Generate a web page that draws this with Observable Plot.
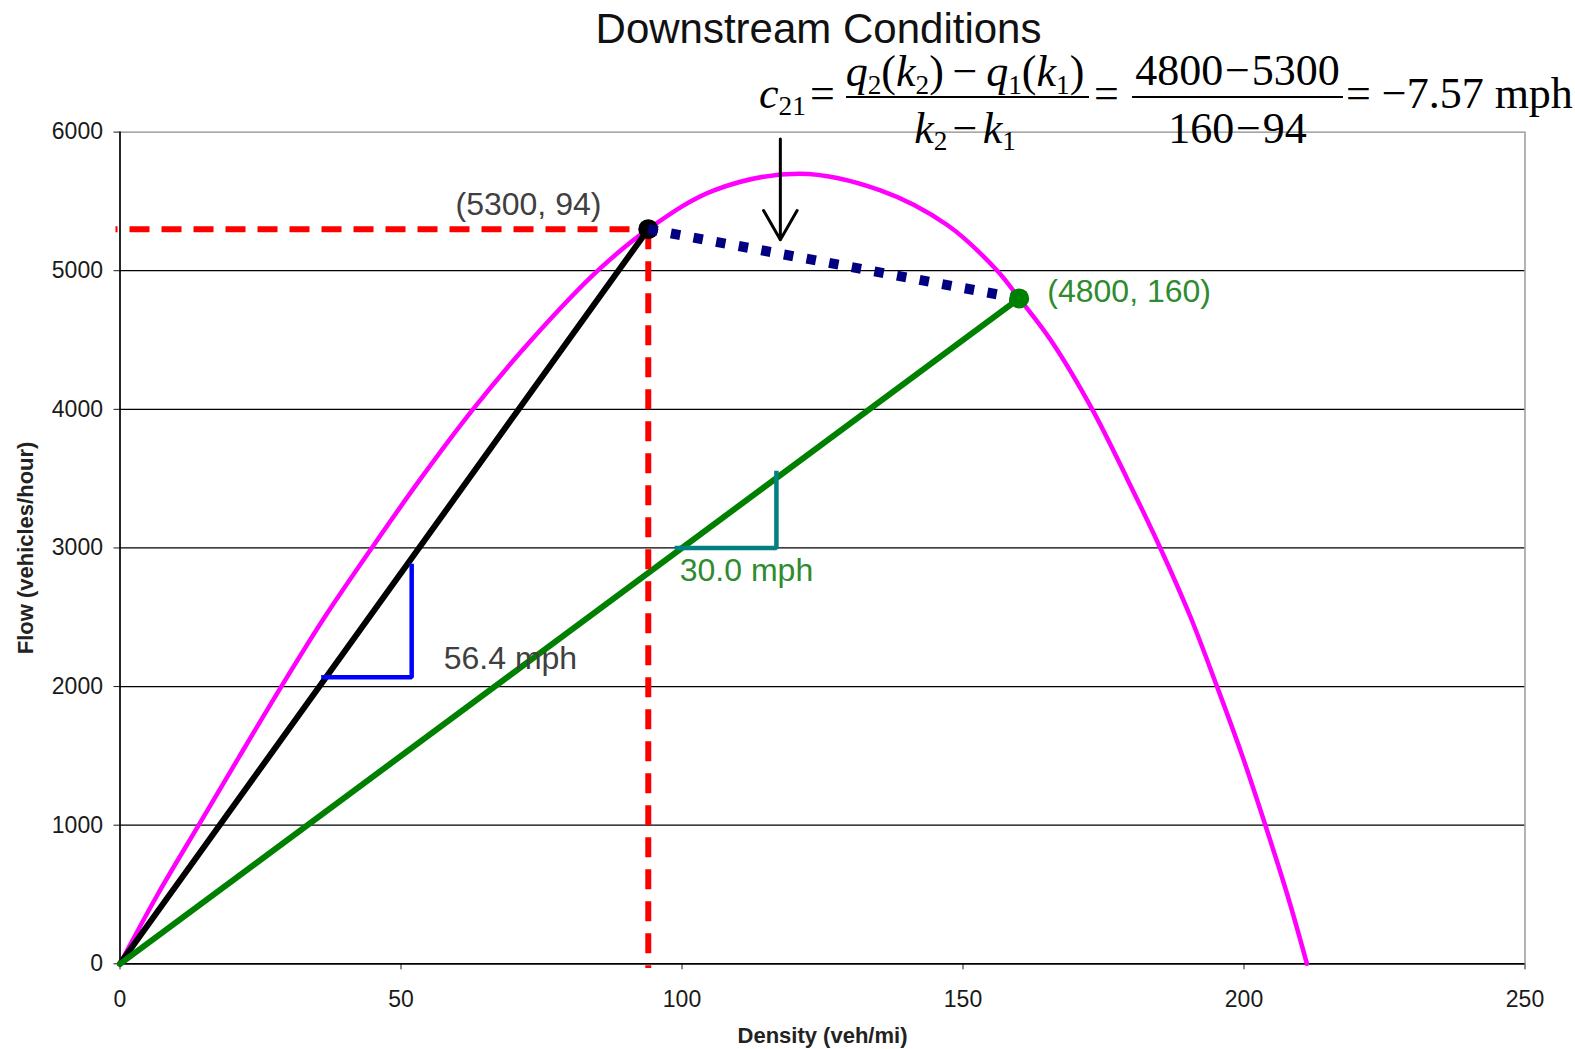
<!DOCTYPE html>
<html>
<head>
<meta charset="utf-8">
<script src="https://cdn.jsdelivr.net/npm/d3@7"></script>
<script src="https://cdn.jsdelivr.net/npm/@observablehq/plot@0.6"></script>
<style>
  body { margin: 0; background: #fff; }
  #wrap { position: relative; width: 1575px; height: 1049px; overflow: hidden; }
  .eq { position: absolute; font-family: 'Liberation Serif', 'Times New Roman', serif; font-size: 44px; line-height: 44px; white-space: nowrap; color: #000; }
  .eq i { font-style: italic; }
  .sub { font-size: 0.62em; position: relative; top: 0.28em; }
  .bar { position: absolute; height: 2px; background: #000; }
  .c { text-align: center; }
  .m1 { margin: 0 0.2em; }
  .m2 { margin: 0 0.12em; }
  .m3 { margin: 0 0.04em; }
</style>
</head>
<body>
<div id="wrap">
  <div id="chart"></div>
  <div class="eq" style="left:759px; top:71.6px;"><i>c</i><span class="sub">21</span></div>
  <div class="eq" style="left:810px; top:71.6px;">=</div>
  <div class="eq c" style="left:843px; width:244px; top:50px;"><i>q</i><span class="sub">2</span>(<i>k</i><span class="sub">2</span>)<span class="m1">−</span><i>q</i><span class="sub">1</span>(<i>k</i><span class="sub">1</span>)</div>
  <div class="bar" style="left:846px; width:243px; top:96px;"></div>
  <div class="eq c" style="left:843px; width:244px; top:106.6px;"><i>k</i><span class="sub">2</span><span class="m2">−</span><i>k</i><span class="sub">1</span></div>
  <div class="eq" style="left:1094px; top:71.6px;">=</div>
  <div class="eq c" style="left:1132px; width:211px; top:49px;" id="num2"></div>
  <div class="bar" style="left:1132px; width:211px; top:96px;"></div>
  <div class="eq c" style="left:1132px; width:211px; top:106.6px;" id="den2"></div>
  <div class="eq" style="left:1346px; top:71.6px;" id="res"></div>
</div>
<script>
// ---- data ----
const xTicks = [0, 50, 100, 150, 200, 250];
const yTicks = [0, 1000, 2000, 3000, 4000, 5000, 6000];

// flow-density curve (k in veh/mi, q in veh/h)
const curveK = [0, 6.7, 14.0, 21.3, 28.7, 36.4, 44.8, 53.5, 62.8, 73.2, 85.0, 94, 105.7, 121, 135.3, 147.2, 156.1, 160, 165.6, 173, 179.2, 185.1, 190.5, 195.2, 199.7, 203.8, 207.7, 211.2];
const curveQ = [0, 500, 1000, 1500, 2000, 2500, 3000, 3500, 4000, 4500, 5000, 5300, 5580, 5700, 5580, 5330, 5000, 4800, 4500, 4000, 3500, 3000, 2500, 2000, 1500, 1000, 500, 0];

// the two states
const stateK = [94, 160];
const stateQ = [5300, 4800];

// red dashed guides to state 1
const guideHK = [-0.8, 94];
const guideHQ = [5300, 5300];
const guideVK = [94, 94];
const guideVQ = [5300, -30];

// slope triangles
const blueTriK = [36.2, 51.9, 51.9];
const blueTriQ = [2068, 2068, 2870];
const tealTriK = [99.1, 116.8, 116.8];
const tealTriQ = [3000, 3000, 3540];

// arrow pointing to the shock line
const arrowK = [117.5];
const arrowFromQ = [5950];
const arrowToQ = [5224];

// labels
const grayLabels = ["(5300, 94)", "56.4 mph"];
const grayLabelK = [59.7, 57.6];
const grayLabelQ = [5478, 2204];
const greenLabels = ["(4800, 160)", "30.0 mph"];
const greenLabelK = [165.0, 99.6];
const greenLabelQ = [4848, 2838];

const title = ["Downstream Conditions"];
const xLabel = ["Density (veh/mi)"];
const yLabel = ["Flow (vehicles/hour)"];

// equation numbers
const eqNumerator = ["4800", "5300"];
const eqDenominator = ["160", "94"];
const eqResult = "−7.57";

function fillDiff(id, parts) {
  const el = document.getElementById(id);
  el.appendChild(document.createTextNode(parts[0]));
  const m = document.createElement("span");
  m.className = "m3";
  m.textContent = "−";
  el.appendChild(m);
  el.appendChild(document.createTextNode(parts[1]));
}
fillDiff("num2", eqNumerator);
fillDiff("den2", eqDenominator);
document.getElementById("res").textContent = "= " + eqResult + " mph";

const chart = Plot.plot({
  width: 1575,
  height: 1049,
  marginLeft: 119.5,
  marginRight: 50.5,
  marginTop: 131.6,
  marginBottom: 85.7,
  style: { fontFamily: "'Liberation Sans', Arial, sans-serif", fontSize: "23px", background: "white", color: "#000" },
  x: { domain: [0, 250] },
  y: { domain: [0, 6000] },
  marks: [
    Plot.ruleY(yTicks.filter(d => d > 0 && d < 6000), { stroke: "#000", strokeWidth: 1.3 }),
    Plot.ruleY([6000], { stroke: "#8a8a8a", strokeWidth: 1.3 }),
    Plot.ruleX([250], { stroke: "#8a8a8a", strokeWidth: 1.3 }),
    Plot.axisX({ ticks: xTicks, tickSize: 6, tickPadding: 21, label: null, fontSize: 23, tickFormat: d => String(d), color: "#1a1a1a" }),
    Plot.axisY({ ticks: yTicks, tickSize: 6, tickPadding: 11, label: null, fontSize: 23, tickFormat: d => String(d), color: "#1a1a1a" }),
    Plot.ruleX([0], { stroke: "#000", strokeWidth: 1.7 }),
    Plot.ruleY([0], { stroke: "#000", strokeWidth: 1.7 }),
    // flow-density curve
    Plot.line(curveK, { x: curveK, y: curveQ, stroke: "#ff00ff", strokeWidth: 4.5, curve: "catmull-rom" }),
    // speed rays
    Plot.line([0, 1], { x: [0, stateK[0]], y: [0, stateQ[0]], stroke: "#000", strokeWidth: 6 }),
    Plot.line([0, 1], { x: [0, stateK[1]], y: [0, stateQ[1]], stroke: "#008000", strokeWidth: 6 }),
    // red dashed guides
    Plot.line(guideHK, { x: guideHK, y: guideHQ, stroke: "#ff0000", strokeWidth: 6, strokeLinecap: "butt", strokeDasharray: "20,12", strokeDashoffset: 18 }),
    Plot.line(guideVK, { x: guideVK, y: guideVQ, stroke: "#ff0000", strokeWidth: 6, strokeLinecap: "butt", strokeDasharray: "20,12" }),
    // slope triangles
    Plot.line(blueTriK, { x: blueTriK, y: blueTriQ, stroke: "#0000ff", strokeWidth: 4.5, strokeLinecap: "square", strokeLinejoin: "miter" }),
    Plot.line(tealTriK, { x: tealTriK, y: tealTriQ, stroke: "#008080", strokeWidth: 4.5, strokeLinecap: "square", strokeLinejoin: "miter" }),
    // state points
    Plot.dot([0], { x: [stateK[0]], y: [stateQ[0]], r: 10, fill: "#000" }),
    // shock wave line (dotted)
    Plot.line(stateK, { x: stateK, y: stateQ, stroke: "#000080", strokeWidth: 10, strokeLinecap: "butt", strokeDasharray: "9.5,13.5" }),
    Plot.dot([0], { x: [stateK[1]], y: [stateQ[1]], r: 10, fill: "#008000" }),
    // arrow
    Plot.arrow([0], { x1: arrowK, y1: arrowFromQ, x2: arrowK, y2: arrowToQ, stroke: "#000", strokeWidth: 3, headLength: 17, headAngle: 60 }),
    // labels
    Plot.text(grayLabels, { x: grayLabelK, y: grayLabelQ, text: grayLabels, textAnchor: "start", fontSize: 32, fill: "#404040" }),
    Plot.text(greenLabels, { x: greenLabelK, y: greenLabelQ, text: greenLabels, textAnchor: "start", fontSize: 32, fill: "#2e8b2e" }),
    // title & axis labels
    Plot.text(title, { frameAnchor: "top", lineAnchor: "middle", dy: -102.6, dx: -4, fontSize: 42, fill: "#111" }),
    Plot.text(xLabel, { frameAnchor: "bottom", lineAnchor: "middle", dy: 72, fontSize: 22, fontWeight: "bold", fill: "#222" }),
    Plot.text(yLabel, { frameAnchor: "left", textAnchor: "middle", lineAnchor: "middle", dx: -94.5, rotate: -90, fontSize: 22, fontWeight: "bold", fill: "#222" })
  ]
});
document.getElementById("chart").appendChild(chart);
</script>
</body>
</html>
